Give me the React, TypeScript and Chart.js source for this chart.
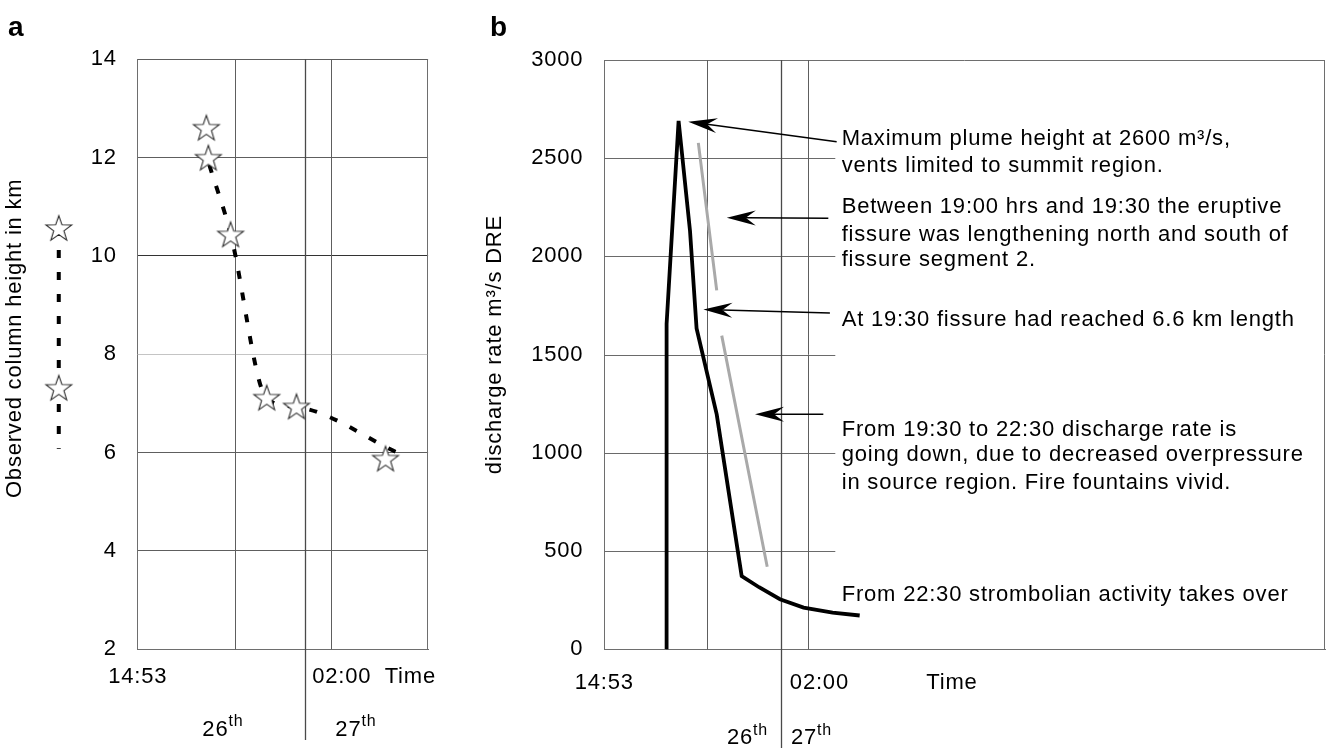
import React, { useEffect, useRef } from "react";
import { Chart, registerables } from "chart.js";

Chart.register(...registerables);

const FONT_FAMILY = '"Liberation Sans", Arial, Helvetica, sans-serif';

// ---------- shared time axis (hours elapsed since 14:53 on the 26th) ----------
const timeTickHours = [0, 11.117];
const timeTickLabels = ["14:53", "02:00"];
const timeWordLabel = "Time";
const midnightHour = 9.117;
const timeGridHours = [5.3, 10.55];
const dayNumbers = ["26", "27"];
const daySuffix = "th";

// ---------- panel a: observed column height (km) ----------
const heightTicksMin = 2;
const heightTicksMax = 14;
const heightTicksStep = 2;
const heightAxisTitle = "Observed column height in km";
const earlyHeightHours = [-4.3, -4.3, -4.3];
const earlyHeightKm = [10.57, 7.32, 6.08];
const earlyHeightHasStar = [true, true, false];
const observedHours = [3.74, 3.85, 5.06, 7.03, 8.65, 13.5];
const observedKm = [12.61, 12.0, 10.44, 7.12, 6.94, 5.88];
const trendHours = [3.9, 5.06, 7.03, 8.65, 14.15];
const trendKm = [11.85, 10.45, 7.1, 6.93, 6.0];

// ---------- panel b: discharge rate (m3/s DRE) ----------
const rateTicksMin = 0;
const rateTicksMax = 3000;
const rateTicksStep = 500;
const rateAxisTitle = "discharge rate m\u00B3/s DRE";
const dischargeHours = [3.19, 3.22, 3.84, 4.43, 4.77, 5.81, 7.1, 8.0, 9.08, 10.3, 11.8, 13.2];
const dischargeRate = [0, 1657, 2690, 2130, 1633, 1196, 373, 316, 255, 212, 187, 172];
const secondaryHours = [4.86, 5.81, 5.94, 6.07, 8.42];
const secondaryRate: (number | null)[] = [2578, 1827, null, 1597, 420];
const noteLines = [
  "Maximum plume height at 2600 m\u00B3/s,",
  "vents limited to summit region.",
  "Between 19:00 hrs and 19:30 the eruptive",
  "fissure was lengthening north and south of",
  "fissure segment 2.",
  "At 19:30 fissure had reached 6.6 km length",
  "From 19:30 to 22:30 discharge rate is",
  "going down, due to decreased overpressure",
  "in source region. Fire fountains vivid.",
  "From 22:30 strombolian activity takes over",
];
const noteBaselineRates = [2567, 2428, 2220, 2081, 1950, 1644, 1087, 957, 817, 248];
const noteHour = 12.27;
const arrowTipHours = [4.34, 6.33, 5.12, 7.79];
const arrowTipRates = [2686, 2197, 1730, 1196];
const arrowTailHours = [12.01, 11.58, 11.66, 11.32];
const arrowTailRates = [2584, 2194, 1712, 1196];
const rateGridEndHour = 11.94;

// ---------- helpers ----------
function makeStar(): HTMLCanvasElement {
  const outer = 13.5;
  const inner = 5.4;
  const size = 32;
  const c = document.createElement("canvas");
  c.width = size;
  c.height = size;
  const ctx = c.getContext("2d")!;
  const cx = size / 2;
  const cy = size / 2 + 1.2;
  ctx.beginPath();
  for (let i = 0; i < 10; i++) {
    const r = i % 2 === 0 ? outer : inner;
    const a = -Math.PI / 2 + (i * Math.PI) / 5;
    const px = cx + r * Math.cos(a);
    const py = cy + r * Math.sin(a);
    if (i === 0) ctx.moveTo(px, py);
    else ctx.lineTo(px, py);
  }
  ctx.closePath();
  ctx.fillStyle = "#ffffff";
  ctx.fill();
  ctx.strokeStyle = "#2a2a2a";
  ctx.lineWidth = 1.1;
  ctx.stroke();
  return c;
}

function pts(xs: number[], ys: (number | null)[]) {
  return xs.map((x, i) => ({ x, y: ys[i] }));
}

function timeScale(max: number, labelPadding: number, wordHour: number) {
  const values = [...timeTickHours, wordHour];
  return {
    type: "linear" as const,
    bounds: "data" as const,
    afterDataLimits: (s: any) => {
      s.min = 0;
      s.max = max;
    },
    afterBuildTicks: (s: any) => {
      s.ticks = values.map((v) => ({ value: v }));
    },
    afterFit: (s: any) => {
      s.height = 98.7;
    },
    grid: { display: false, drawTicks: false },
    border: { display: true, color: "#6e6e6e", width: 1 },
    ticks: {
      autoSkip: false,
      maxRotation: 0,
      minRotation: 0,
      padding: labelPadding,
      color: "#000",
      font: { family: FONT_FAMILY, size: 22 },
      callback: (_v: any, i: number) => (i < timeTickLabels.length ? timeTickLabels[i] : timeWordLabel),
    },
  };
}

function drawDays(chart: any, gap26: number, gap27: number, baseline: number, raise: number) {
  const { ctx, scales } = chart;
  const mx = scales.x.getPixelForValue(midnightHour);
  const big = `22px ${FONT_FAMILY}`;
  const small = `16px ${FONT_FAMILY}`;
  ctx.save();
  ctx.fillStyle = "#000";
  ctx.textAlign = "left";
  ctx.textBaseline = "alphabetic";
  ctx.font = small;
  const thW = ctx.measureText(daySuffix).width;
  ctx.font = big;
  const d0 = ctx.measureText(dayNumbers[0]).width;
  const end = mx - gap26;
  ctx.fillText(dayNumbers[0], end - thW - d0, baseline);
  ctx.font = small;
  ctx.fillText(daySuffix, end - thW, baseline - raise);
  ctx.font = big;
  ctx.fillText(dayNumbers[1], mx + gap27, baseline);
  const d1 = ctx.measureText(dayNumbers[1]).width;
  ctx.font = small;
  ctx.fillText(daySuffix, mx + gap27 + d1, baseline - raise);
  ctx.restore();
}

function drawAxisTitle(chart: any, text: string, cx: number, dyFromCenter: number) {
  const { ctx, chartArea: ca } = chart;
  ctx.save();
  ctx.translate(cx, (ca.top + ca.bottom) / 2 + dyFromCenter);
  ctx.rotate(-Math.PI / 2);
  ctx.fillStyle = "#000";
  ctx.font = `22px ${FONT_FAMILY}`;
  ctx.textAlign = "center";
  ctx.textBaseline = "middle";
  ctx.fillText(text, 0, 0);
  ctx.restore();
}

function drawVerticals(chart: any, extendTo: number) {
  const { ctx, chartArea: ca, scales } = chart;
  const x = scales.x;
  ctx.save();
  ctx.strokeStyle = "#5e5e5e";
  ctx.lineWidth = 1;
  for (const h of timeGridHours) {
    const px = Math.round(x.getPixelForValue(h)) + 0.5;
    ctx.beginPath();
    ctx.moveTo(px, ca.top);
    ctx.lineTo(px, ca.bottom);
    ctx.stroke();
  }
  // right frame
  ctx.strokeStyle = "#6e6e6e";
  ctx.beginPath();
  ctx.moveTo(Math.round(ca.right) - 0.5, ca.top);
  ctx.lineTo(Math.round(ca.right) - 0.5, ca.bottom);
  ctx.stroke();
  // midnight divider, extends below the axis
  const mx = Math.round(x.getPixelForValue(midnightHour)) + 0.5;
  ctx.strokeStyle = "#4a4a4a";
  ctx.lineWidth = 1.3;
  ctx.beginPath();
  ctx.moveTo(mx, ca.top);
  ctx.lineTo(mx, extendTo);
  ctx.stroke();
  ctx.restore();
}

function drawPanelLetter(chart: any, letter: string, x: number) {
  const { ctx } = chart;
  ctx.save();
  ctx.fillStyle = "#000";
  ctx.font = `bold 28px ${FONT_FAMILY}`;
  ctx.textAlign = "left";
  ctx.textBaseline = "alphabetic";
  ctx.fillText(letter, x, 36);
  ctx.restore();
}

function drawArrow(ctx: CanvasRenderingContext2D, tx: number, ty: number, hx: number, hy: number) {
  const ang = Math.atan2(hy - ty, hx - tx);
  const ux = Math.cos(ang);
  const uy = Math.sin(ang);
  const L = 29;
  const W = 7.5;
  const N = 19;
  ctx.beginPath();
  ctx.moveTo(tx, ty);
  ctx.lineTo(hx - ux * N, hy - uy * N);
  ctx.stroke();
  ctx.beginPath();
  ctx.moveTo(hx, hy);
  ctx.lineTo(hx - ux * L - uy * W, hy - uy * L + ux * W);
  ctx.lineTo(hx - ux * N, hy - uy * N);
  ctx.lineTo(hx - ux * L + uy * W, hy - uy * L - ux * W);
  ctx.closePath();
  ctx.fill();
}

const spacingPlugin = {
  id: "letterSpacing",
  beforeDraw(chart: any) {
    try {
      (chart.ctx as any).letterSpacing = "0.8px";
    } catch (e) {
      /* ignore */
    }
  },
};

const plainNumber = (v: any) => String(v);

export default function App() {
  const refA = useRef<HTMLCanvasElement>(null);
  const refB = useRef<HTMLCanvasElement>(null);

  useEffect(() => {
    document.body.style.margin = "0";
    const star = makeStar();

    const panelA = {
      id: "panelA",
      beforeDatasetsDraw(chart: any) {
        drawVerticals(chart, 740);
      },
      afterDatasetsDraw(chart: any) {
        const { ctx } = chart;
        const meta = chart.getDatasetMeta(2);
        ctx.save();
        meta.data.forEach((el: any, i: number) => {
          if (earlyHeightHasStar[i]) ctx.drawImage(star, el.x - star.width / 2, el.y - star.height / 2);
        });
        ctx.restore();
      },
      afterDraw(chart: any) {
        drawAxisTitle(chart, heightAxisTitle, 15.2, -16);
        drawDays(chart, 61.7, 30.3, 736, 10);
        drawPanelLetter(chart, "a", 8);
      },
    };

    const chartA = new Chart(refA.current!, {
      type: "scatter",
      data: {
        datasets: [
          {
            label: "observed",
            data: pts(observedHours, observedKm),
            showLine: false,
            pointStyle: star as any,
            pointRadius: 13,
            pointHoverRadius: 13,
          },
          {
            label: "trend",
            data: pts(trendHours, trendKm),
            showLine: true,
            borderColor: "#000",
            borderWidth: 4,
            borderDash: [8, 14],
            pointRadius: 0,
            cubicInterpolationMode: "monotone",
          },
          {
            label: "early",
            data: pts(earlyHeightHours, earlyHeightKm),
            showLine: true,
            borderColor: "#000",
            borderWidth: 4,
            borderDash: [8, 14],
            pointRadius: 0,
            clip: false as any,
          },
        ] as any,
      },
      options: {
        animation: false,
        responsive: false,
        devicePixelRatio: 1,
        events: [],
        layout: { padding: { left: 0, right: 19, top: 59.3, bottom: 0 } },
        plugins: { legend: { display: false }, tooltip: { enabled: false } },
        scales: {
          x: timeScale(15.82, 14.5, 14.85) as any,
          y: {
            type: "linear",
            min: heightTicksMin,
            max: heightTicksMax,
            afterFit: (s: any) => {
              s.width = 137.7;
            },
            ticks: {
              stepSize: heightTicksStep,
              padding: 21,
              color: "#000",
              font: { family: FONT_FAMILY, size: 22 },
              callback: plainNumber,
            },
            grid: {
              drawTicks: false,
              lineWidth: 1,
              color: (c: any) =>
                c.tick && c.tick.value === 8 ? "#c4c4c4" : c.tick && c.tick.value === 10 ? "#333" : "#5e5e5e",
            },
            border: { display: true, color: "#6e6e6e" },
            title: { display: false },
          } as any,
        },
      },
      plugins: [spacingPlugin, panelA],
    });

    const panelB = {
      id: "panelB",
      beforeDatasetsDraw(chart: any) {
        const { ctx, chartArea: ca, scales } = chart;
        const { x, y } = scales;
        ctx.save();
        ctx.strokeStyle = "#6a6a6a";
        ctx.lineWidth = 1;
        const xEnd = x.getPixelForValue(rateGridEndHour);
        for (let v = rateTicksMin + rateTicksStep; v < rateTicksMax; v += rateTicksStep) {
          const py = Math.round(y.getPixelForValue(v)) + 0.5;
          ctx.beginPath();
          ctx.moveTo(ca.left, py);
          ctx.lineTo(xEnd, py);
          ctx.stroke();
        }
        const top = Math.round(y.getPixelForValue(rateTicksMax)) + 0.5;
        ctx.strokeStyle = "#6e6e6e";
        ctx.beginPath();
        ctx.moveTo(ca.left, top);
        ctx.lineTo(ca.right, top);
        ctx.stroke();
        ctx.restore();
        drawVerticals(chart, 748);
      },
      afterDatasetsDraw(chart: any) {
        const { ctx, scales } = chart;
        const { x, y } = scales;
        ctx.save();
        ctx.strokeStyle = "#000";
        ctx.fillStyle = "#000";
        ctx.lineWidth = 1.5;
        for (let i = 0; i < arrowTipHours.length; i++) {
          drawArrow(
            ctx,
            x.getPixelForValue(arrowTailHours[i]),
            y.getPixelForValue(arrowTailRates[i]),
            x.getPixelForValue(arrowTipHours[i]),
            y.getPixelForValue(arrowTipRates[i])
          );
        }
        ctx.fillStyle = "#000";
        ctx.font = `22px ${FONT_FAMILY}`;
        ctx.textAlign = "left";
        ctx.textBaseline = "alphabetic";
        const tx = x.getPixelForValue(noteHour);
        noteLines.forEach((line, i) => {
          ctx.fillText(line, tx, y.getPixelForValue(noteBaselineRates[i]));
        });
        ctx.restore();
      },
      afterDraw(chart: any) {
        drawAxisTitle(chart, rateAxisTitle, 44.9, -10);
        drawDays(chart, 12.7, 10.3, 744, 9);
        drawPanelLetter(chart, "b", 40);
      },
    };

    const chartB = new Chart(refB.current!, {
      type: "scatter",
      data: {
        datasets: [
          {
            label: "discharge rate",
            data: pts(dischargeHours, dischargeRate),
            showLine: true,
            borderColor: "#000",
            borderWidth: 3.8,
            borderJoinStyle: "miter",
            pointRadius: 0,
          },
          {
            label: "secondary",
            data: pts(secondaryHours, secondaryRate),
            showLine: true,
            spanGaps: false,
            borderColor: "#a9a9a9",
            borderWidth: 3,
            pointRadius: 0,
          },
        ] as any,
      },
      options: {
        animation: false,
        responsive: false,
        devicePixelRatio: 1,
        events: [],
        layout: { padding: { left: 0, right: 1, top: 60, bottom: 0 } },
        plugins: { legend: { display: false }, tooltip: { enabled: false } },
        scales: {
          x: timeScale(37.25, 20.2, 17.97) as any,
          y: {
            type: "linear",
            min: rateTicksMin,
            max: rateTicksMax,
            afterFit: (s: any) => {
              s.width = 154.3;
            },
            ticks: {
              stepSize: rateTicksStep,
              padding: 21,
              color: "#000",
              font: { family: FONT_FAMILY, size: 22 },
              callback: plainNumber,
            },
            grid: { display: false, drawTicks: false },
            border: { display: true, color: "#6e6e6e" },
            title: { display: false },
          } as any,
        },
      },
      plugins: [spacingPlugin, panelB],
    });

    return () => {
      chartA.destroy();
      chartB.destroy();
    };
  }, []);

  return (
    <div style={{ position: "relative", width: 1326, height: 748, background: "#fff", overflow: "hidden" }}>
      <canvas
        ref={refA}
        width={450}
        height={748}
        style={{ position: "absolute", left: 0, top: 0, width: 450, height: 748 }}
      />
      <canvas
        ref={refB}
        width={876}
        height={748}
        style={{ position: "absolute", left: 450, top: 0, width: 876, height: 748 }}
      />
    </div>
  );
}
